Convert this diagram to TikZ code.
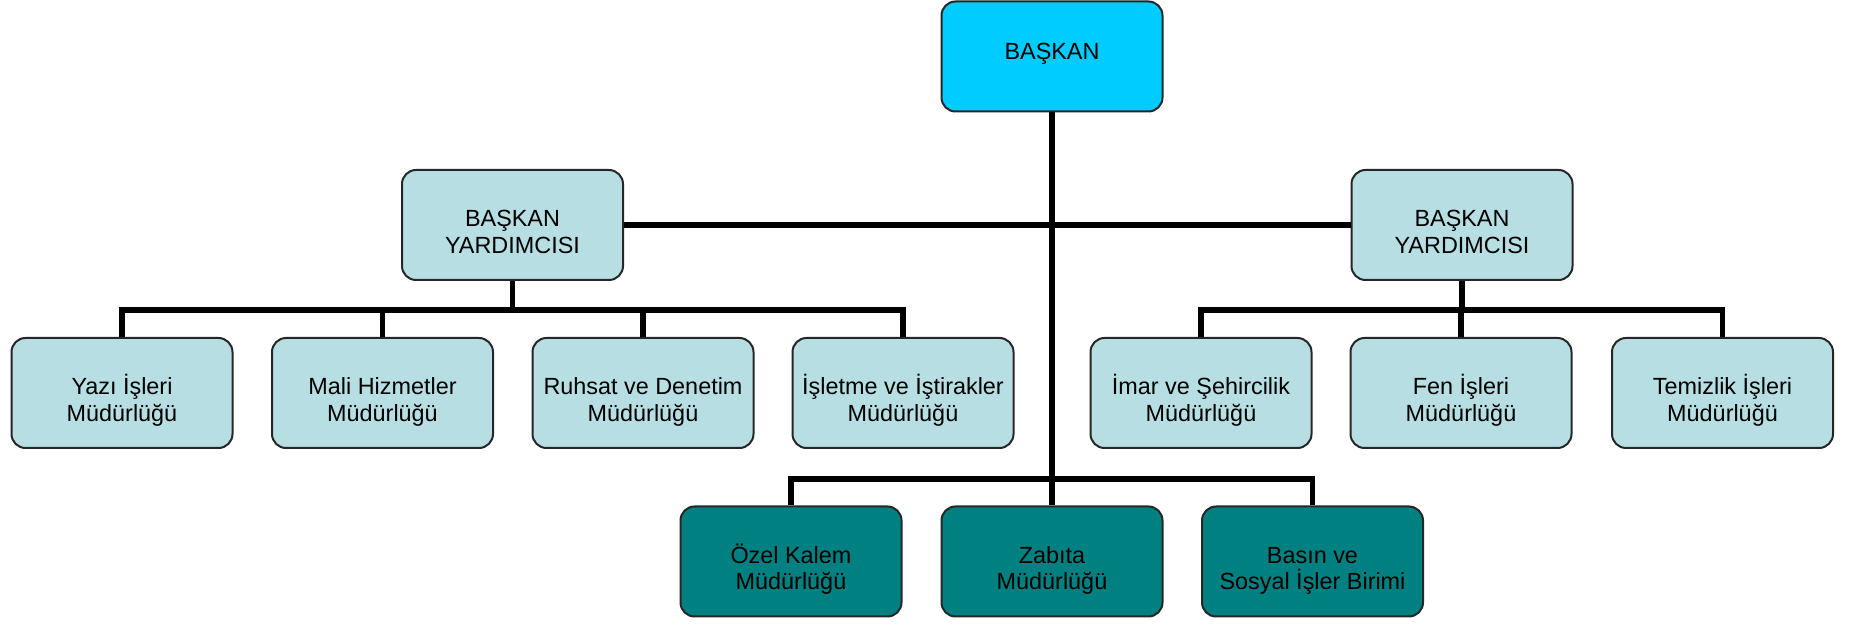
\documentclass[tikz,border=0pt]{standalone}
\usepackage{fontspec}
\setmainfont{Liberation Sans}
\definecolor{headblue}{HTML}{00CCFF}
\definecolor{paleaqua}{HTML}{B7DFE3}
\definecolor{darkteal}{HTML}{008080}
\tikzset{
    unitbox/.style={draw=black!85, line width=1pt, rounded corners=7pt,
            align=center, inner sep=0pt,
            minimum width=110.5pt, minimum height=55pt,
            text height=28.5pt, text depth=0pt,
            font=\fontsize{11.7}{13.4}\selectfont},
    headbox/.style={unitbox, fill=headblue, text height=3pt},
    vpbox/.style={unitbox, fill=paleaqua},
    tealbox/.style={unitbox, fill=darkteal},
    link/.style={line width=2.75pt},
}
\begin{document}
\begin{tikzpicture}[x=0.5pt, y=-0.5pt]
        \useasboundingbox (0,0) rectangle (1849,625);
        %draw top box
        \node[headbox] (baskan) at (1052,56.5) {BAŞKAN};
        %draw the two deputies
        \node[vpbox] (yardl) at (512.5,225) {BAŞKAN\\YARDIMCISI};
        \node[vpbox] (yardr) at (1462,225) {BAŞKAN\\YARDIMCISI};
        %draw left units
        \node[vpbox] (yazi) at (122,393) {Yazı İşleri\\Müdürlüğü};
        \node[vpbox] (mali) at (382.5,393) {Mali Hizmetler\\Müdürlüğü};
        \node[vpbox] (ruhsat) at (643,393) {Ruhsat ve Denetim\\Müdürlüğü};
        \node[vpbox] (isletme) at (903,393) {İşletme ve İştirakler\\Müdürlüğü};
        %draw right units
        \node[vpbox] (imar) at (1201,393) {İmar ve Şehircilik\\Müdürlüğü};
        \node[vpbox] (fen) at (1461,393) {Fen İşleri\\Müdürlüğü};
        \node[vpbox] (temizlik) at (1722.5,393) {Temizlik İşleri\\Müdürlüğü};
        %draw units under the head
        \node[tealbox] (ozel) at (791,561.5) {Özel Kalem\\Müdürlüğü};
        \node[tealbox] (zabita) at (1052,561.5) {Zabıta\\Müdürlüğü};
        \node[tealbox] (basin) at (1312.5,561.5) {Basın ve\\Sosyal İşler Birimi};
        %bus points
        \coordinate (busl) at (512.5,310);
        \coordinate (busr) at (1462,310);
        \coordinate (busb) at (1052,479);
        %connect head and deputies
        \draw[link] (baskan.south) -- (busb);
        \draw[link] (yardl.east) -- (yardr.west);
        %connect deputies to units
        \draw[link] (yardl.south) -- (busl);
        \foreach \n in {yazi,mali,ruhsat,isletme}
            \draw[link] (busl) -| (\n.north);
        \draw[link] (yardr.south) -- (busr);
        \foreach \n in {imar,fen,temizlik}
            \draw[link] (busr) -| (\n.north);
        %connect head to lower units
        \foreach \n in {ozel,zabita,basin}
            \draw[link] (busb) -| (\n.north);
    \end{tikzpicture}
\end{document}
